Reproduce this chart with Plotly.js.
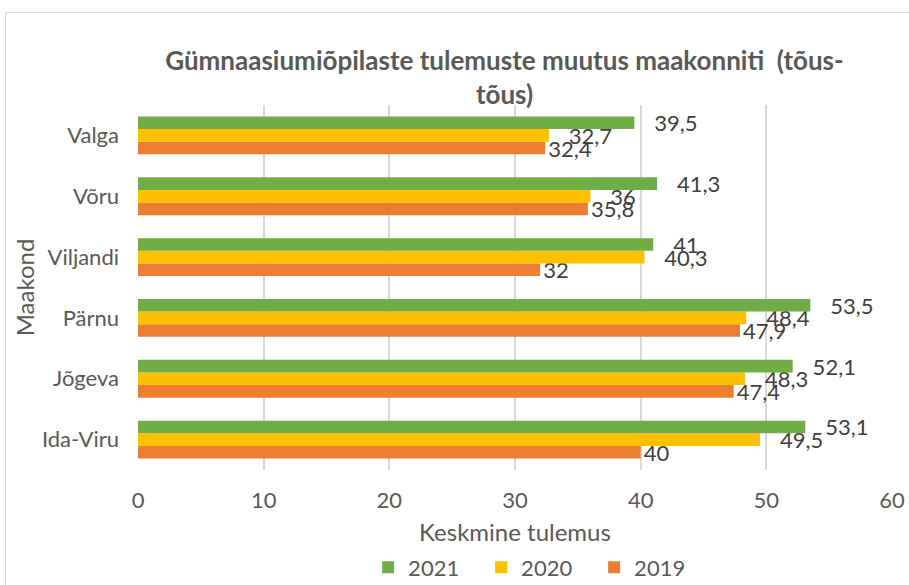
<!DOCTYPE html>
<html>
<head>
<meta charset="utf-8">
<script src="https://cdn.plot.ly/plotly-3.0.1.min.js"></script>
<style>
  html, body { margin: 0; padding: 0; background: #fff; }
  #wrap { position: relative; width: 909px; height: 585px; overflow: hidden; }
  #frame { position: absolute; left: 5px; top: 12px; width: 920px; height: 600px; border: 1px solid #d9d9d9; box-sizing: border-box; pointer-events: none; }
  #chart { position: absolute; left: 0; top: 0; width: 909px; height: 585px; }
</style>
</head>
<body>
<div id="wrap">
  <div id="chart"></div>
  <div id="frame"></div>
</div>
<script>
// Categories listed bottom-to-top
const categories = ["Ida-Viru", "Jõgeva", "Pärnu", "Viljandi", "Võru", "Valga"];
const values2019 = [40, 47.4, 47.9, 32, 35.8, 32.4];
const values2020 = [49.5, 48.3, 48.4, 40.3, 36, 32.7];
const values2021 = [53.1, 52.1, 53.5, 41, 41.3, 39.5];
const seriesNames = ["2019", "2020", "2021"];
const seriesColors = ["#ed7d31", "#ffc000", "#70ad47"];
const xTicks = [0, 10, 20, 30, 40, 50, 60];

const FONT = "Lato, 'Open Sans', sans-serif";
const seriesValues = [values2019, values2020, values2021];
// leading gap (non-breaking spaces) before each series' data labels
const labelPrefix = ["", "\u00a0\u00a0\u00a0", "\u00a0\u00a0\u00a0"];

const traces = seriesValues.map((vals, i) => ({
  type: "bar",
  orientation: "h",
  name: seriesNames[i],
  y: categories,
  x: vals,
  marker: { color: seriesColors[i] },
  texttemplate: labelPrefix[i] + "%{x}",
  textposition: "outside",
  constraintext: "none",
  cliponaxis: false,
  textfont: { family: FONT, size: 22, color: "#404040" },
  hoverinfo: "x+name"
}));

const layout = {
  width: 909,
  height: 585,
  separators: ", ",
  paper_bgcolor: "#ffffff",
  plot_bgcolor: "#ffffff",
  font: { family: FONT, color: "#595959", size: 22 },
  margin: { l: 138, r: 17, t: 105, b: 115, autoexpand: false },
  barmode: "group",
  bargap: 0.378,
  bargroupgap: 0,
  title: {
    text: "<b>Gümnaasiumiõpilaste tulemuste muutus maakonniti  (tõus-<br>tõus)</b>",
    font: { family: FONT, size: 26, color: "#595959" },
    x: 0.555,
    xanchor: "center",
    y: 0.88,
    yanchor: "middle"
  },
  xaxis: {
    range: [0, 60],
    tickvals: xTicks,
    ticktext: xTicks.map(String),
    showgrid: true,
    gridcolor: "#d9d9d9",
    gridwidth: 2,
    zeroline: false,
    showline: false,
    ticks: "",
    automargin: false,
    ticklabelstandoff: 15,
    tickfont: { family: FONT, size: 22, color: "#595959" },
    title: { text: "Keskmine tulemus", font: { family: FONT, size: 24, color: "#595959" }, standoff: 12 },
    fixedrange: true
  },
  yaxis: {
    type: "category",
    showgrid: false,
    zeroline: false,
    showline: false,
    ticks: "",
    automargin: false,
    ticklabelstandoff: 18,
    tickfont: { family: FONT, size: 22, color: "#595959" },
    title: { text: "Maakond", font: { family: FONT, size: 24, color: "#595959" }, standoff: 0 },
    fixedrange: true
  },
  showlegend: true,
  legend: {
    orientation: "h",
    traceorder: "reversed",
    xref: "paper",
    x: 0.53,
    xanchor: "center",
    yref: "container",
    y: 0.03,
    yanchor: "middle",
    entrywidth: 68,
    entrywidthmode: "pixels",
    font: { family: FONT, size: 22, color: "#595959" }
  }
};

Plotly.newPlot("chart", traces, layout, { displayModeBar: false, staticPlot: true });
</script>
</body>
</html>
